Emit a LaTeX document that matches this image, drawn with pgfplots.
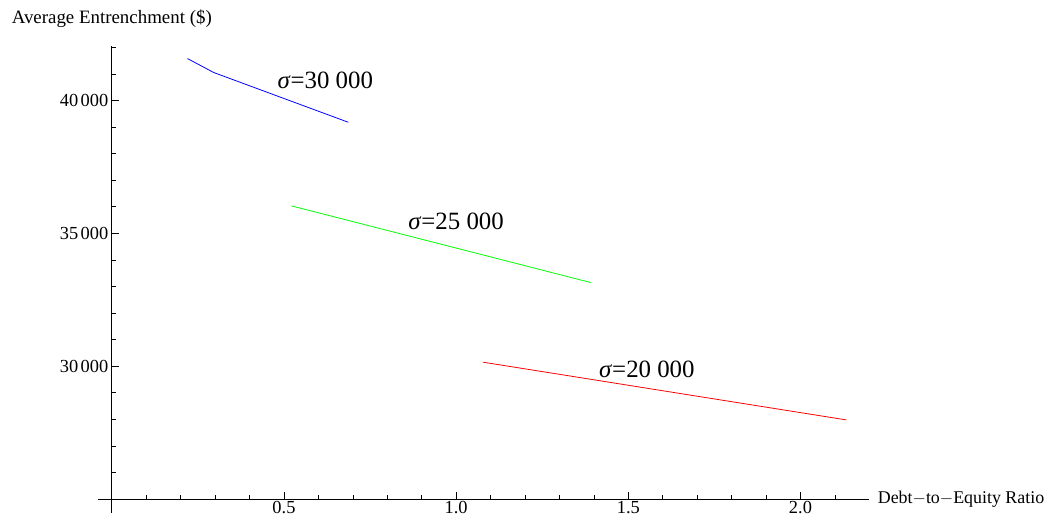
\documentclass[border=0pt]{standalone}
\usepackage{fontspec}
\setmainfont{Liberation Serif}
\usepackage{pgfplots}
\pgfplotsset{compat=1.18}
\begin{document}
\begin{tikzpicture}
\begin{axis}[
  scale only axis,
  width=759bp, height=454bp,
  xmin=0, xmax=2.2,
  ymin=25000, ymax=42050,
  axis x line=bottom, axis y line=left,
  axis line style={-, black, line width=0.6pt},
  tick align=inside,
  major tick length=7bp, minor tick length=4bp,
  every tick/.style={black, line width=0.5pt},
  xtick={0.5,1.0,1.5,2.0},
  minor xtick={0.1,0.2,0.3,0.4,0.6,0.7,0.8,0.9,1.1,1.2,1.3,1.4,1.6,1.7,1.8,1.9,2.1},
  ytick={30000,35000,40000},
  minor ytick={26000,27000,28000,29000,31000,32000,33000,34000,36000,37000,38000,39000,41000,42000},
  scaled y ticks=false,
  scaled x ticks=false,
  xticklabel style={/pgf/number format/fixed, /pgf/number format/fixed zerofill, /pgf/number format/precision=1, yshift=1bp},
  yticklabel style={/pgf/number format/1000 sep={\kern0.13em}, xshift=0bp},
  /pgf/number format/assume math mode=true,
  tick label style={font=\fontsize{18.5}{21}\selectfont},
  every axis x label/.style={at={(axis description cs:1,0)}, anchor=west, xshift=5bp, font=\fontsize{18}{21}\selectfont},
  every axis y label/.style={at={(axis description cs:0,1)}, anchor=south, yshift=15bp, font=\fontsize{19}{22}\selectfont},
  xlabel={Debt$-$to$-$Equity Ratio},
  ylabel={Average Entrenchment (\$)},
  clip=false,
]
\addplot[blue, line width=0.8pt] coordinates {(0.22,41573) (0.296,41049) (0.687,39176)};
\addplot[green, line width=0.8pt] coordinates {(0.522,36030) (1.391,33146)};
\addplot[red, line width=0.8pt] coordinates {(1.078,30150) (2.133,27978)};
\draw[black, line width=0.6pt] (axis cs:-0.04,25000) -- (axis cs:0,25000);
\draw[black, line width=0.6pt] (axis cs:0,25000) -- (axis cs:0,24480);
\node[anchor=base, font=\fontsize{25}{29}\selectfont] at (axis cs:0.62,40449) {\textit{σ}=30 000};
\node[anchor=base, font=\fontsize{25}{29}\selectfont] at (axis cs:1.0,35150) {\textit{σ}=25 000};
\node[anchor=base, font=\fontsize{25}{29}\selectfont] at (axis cs:1.554,29588) {\textit{σ}=20 000};
\end{axis}
\path (current axis.south west) ++(-112bp,-20bp) coordinate (lb);
\path (current axis.north east) ++(184bp,46bp) coordinate (rb);
\end{tikzpicture}
\end{document}
